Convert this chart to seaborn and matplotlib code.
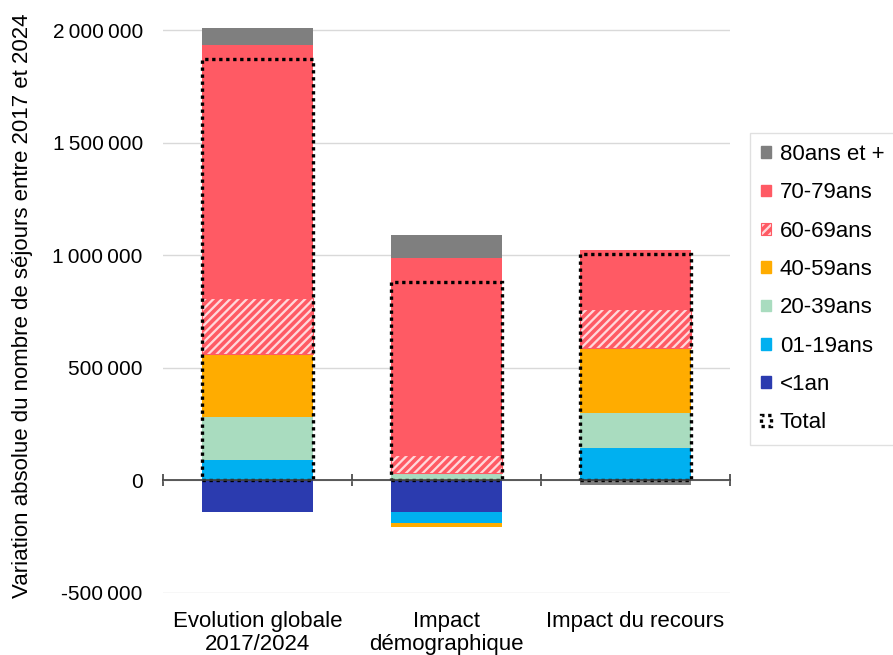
import numpy as np
import pandas as pd
import matplotlib
matplotlib.use("Agg")
import matplotlib.pyplot as plt
from matplotlib.patches import Patch
from matplotlib.ticker import FuncFormatter, FixedLocator
import seaborn as sns

# Categories (x axis)
categories = ["Evolution globale\n2017/2024", "Impact\ndémographique", "Impact du recours"]

# Age groups, in stacking order (closest to zero first)
age_groups = ["<1an", "01-19ans", "20-39ans", "40-59ans", "60-69ans", "70-79ans", "80ans et +"]

# Absolute variation of stays, per age group and category
v_moins1 = [-142000, -140000, 0]
v_01_19 = [90000, -50000, 145000]
v_20_39 = [191000, 34000, 156000]
v_40_59 = [280000, -17000, 286000]
v_60_69 = [250000, 77000, 176000]
v_70_79 = [1123000, 878000, 262000]
v_80plus = [79000, 100000, -20000]

series_values = [v_moins1, v_01_19, v_20_39, v_40_59, v_60_69, v_70_79, v_80plus]

colors = {
    "<1an": "#2B3BAF",
    "01-19ans": "#00B0F0",
    "20-39ans": "#A9DCBF",
    "40-59ans": "#FFAC00",
    "60-69ans": "#FFD8DB",
    "70-79ans": "#FF5A64",
    "80ans et +": "#7F7F7F",
}

plt.rcParams["font.family"] = ["Liberation Sans", "DejaVu Sans"]
plt.rcParams["hatch.linewidth"] = 2.6

fig = plt.figure(figsize=(8.93, 6.55), dpi=100)
# plot area: x from 163 px to 730 px, y from -500 000 to 2 050 000
ax = fig.add_axes([163 / 893, 0.0947, 567 / 893, 0.876])

bar_width = 0.59
pos_base = np.zeros(len(categories))
neg_base = np.zeros(len(categories))

for name, vals in zip(age_groups, series_values):
    vals = np.asarray(vals, dtype=float)
    bottoms = np.where(vals >= 0, pos_base, neg_base)
    df = pd.DataFrame({"cat": categories, "val": vals})
    kws = dict(bottom=bottoms, linewidth=0)
    if name == "60-69ans":
        kws.update(edgecolor="#FF5A64", hatch="////", linewidth=0.8)
    else:
        kws.update(edgecolor=colors[name])
    sns.barplot(data=df, x="cat", y="val", order=categories, width=bar_width,
                color=colors[name], saturation=1, errorbar=None, ax=ax, **kws)
    pos_base = pos_base + np.where(vals > 0, vals, 0)
    neg_base = neg_base + np.where(vals < 0, vals, 0)

# Total variation: dotted outline
totals = np.sum(np.array(series_values, dtype=float), axis=0)
df_tot = pd.DataFrame({"cat": categories, "val": totals})
sns.barplot(data=df_tot, x="cat", y="val", order=categories, width=bar_width,
            color="black", saturation=1, errorbar=None, ax=ax, fill=False,
            edgecolor="black", linewidth=2.4, linestyle=(0, (1, 1.1)), zorder=5)

# Axes styling
ax.set_xlim(-0.5, 2.5)
ax.set_ylim(-500000, 2050000)
ax.set_yticks([-500000, 0, 500000, 1000000, 1500000, 2000000])
ax.yaxis.set_major_formatter(
    FuncFormatter(lambda v, p: f"{v:,.0f}".replace(",", "\u2009")))
ax.tick_params(axis="y", length=0, labelsize=15, pad=14.5, colors="#000000")
ax.yaxis.grid(True, color="#D9D9D9", linewidth=1)
ax.set_axisbelow(True)
for s in ["left", "right", "top"]:
    ax.spines[s].set_visible(False)
ax.spines["bottom"].set_position(("data", 0))
ax.spines["bottom"].set_color("#404040")
ax.spines["bottom"].set_linewidth(1.2)
ax.spines["bottom"].set_zorder(6)
ax.xaxis.set_major_locator(FixedLocator([-0.5, 0.5, 1.5, 2.5]))
ax.set_xticklabels([])
ax.tick_params(axis="x", direction="inout", length=9, width=1.2, color="#404040")
ax.set_xlabel("")
ax.set_ylabel("Variation absolue du nombre de séjours entre 2017 et 2024", fontsize=16)
ax.yaxis.set_label_coords(-0.229, 0.5)

sec = ax.secondary_xaxis(0.0)
sec.set_xticks(range(len(categories)))
sec.set_xticklabels(categories, fontsize=16, linespacing=1.1)
sec.tick_params(length=0, pad=13)
sec.spines["bottom"].set_visible(False)

# Legend
handles = []
for name in reversed(age_groups):
    if name == "60-69ans":
        handles.append(Patch(facecolor=colors[name], edgecolor="#FF5A64",
                             hatch="////", linewidth=0.8, label=name))
    else:
        handles.append(Patch(facecolor=colors[name], edgecolor=colors[name], label=name))
handles.append(Patch(facecolor="none", edgecolor="black", linewidth=2.4,
                     linestyle=(0, (1, 1.1)), label="Total"))
leg = fig.legend(handles=handles, loc="upper left",
                 bbox_to_anchor=(750 / 893, 1 - 133 / 655),
                 fontsize=16, frameon=True, fancybox=False,
                 handlelength=0.45, handleheight=0.45, handletextpad=0.4,
                 labelspacing=0.78, borderpad=0.5, borderaxespad=0)
leg.get_frame().set_edgecolor("#D9D9D9")
leg.get_frame().set_linewidth(1)

fig.savefig("out.png", dpi=100)
